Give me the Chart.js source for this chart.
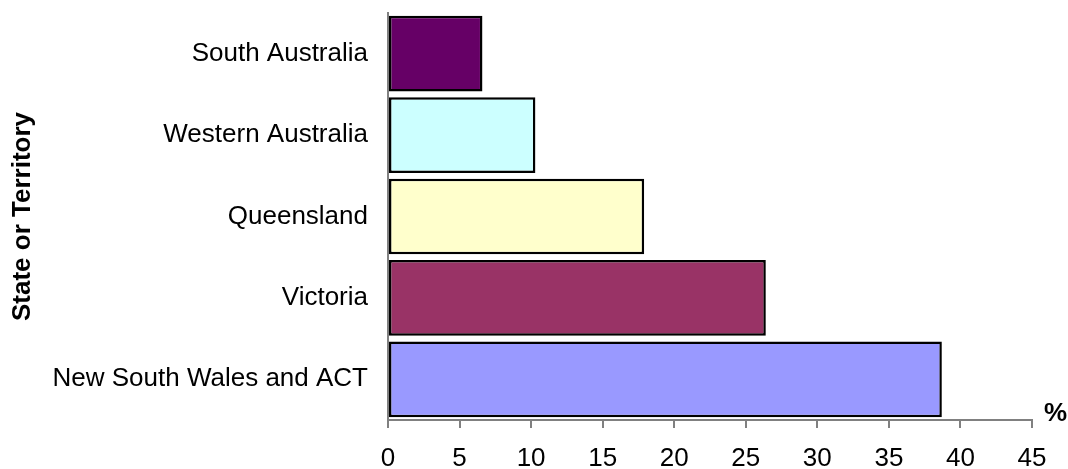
<!DOCTYPE html>
<html>
<head>
<meta charset="utf-8">
<script src="https://cdn.jsdelivr.net/npm/chart.js@4"></script>
<style>
  html, body { margin: 0; padding: 0; background: #fff; }
  #wrap { width: 1068px; height: 469px; }
</style>
</head>
<body>
<div id="wrap"><canvas id="chart" width="1068" height="469"></canvas></div>
<script>
// categories, top to bottom
const states = ['South Australia', 'Western Australia', 'Queensland', 'Victoria', 'New South Wales and ACT'];
// share, %
const shares = [6.6, 10.3, 17.9, 26.4, 38.7];
const barColours = ['#660066', '#CCFFFF', '#FFFFCC', '#993366', '#9999FF'];
const xTicks = [0, 5, 10, 15, 20, 25, 30, 35, 40, 45];

const FONT = "'Liberation Sans', Arial, sans-serif";

// "%" unit label next to the end of the x axis
const unitLabel = {
    id: 'unitLabel',
    afterDraw(chart) {
        const { ctx, chartArea } = chart;
        ctx.save();
        ctx.font = 'bold 26px ' + FONT;
        ctx.fillStyle = '#000';
        ctx.textAlign = 'left';
        ctx.textBaseline = 'alphabetic';
        ctx.fillText('%', chartArea.right + 12, chartArea.bottom + 1);
        ctx.restore();
    }
};

new Chart(document.getElementById('chart'), {
    type: 'bar',
    data: {
        labels: states,
        datasets: [{
            data: shares,
            backgroundColor: barColours,
            borderColor: '#000',
            borderWidth: 2.5,
            borderSkipped: false,
            barPercentage: 0.93,
            categoryPercentage: 1
        }]
    },
    options: {
        indexAxis: 'y',
        responsive: false,
        animation: false,
        layout: { padding: { top: 13, right: 36, left: 0, bottom: 0 } },
        plugins: {
            legend: { display: false },
            tooltip: { enabled: false }
        },
        scales: {
            x: {
                min: 0,
                max: 45,
                afterBuildTicks: (s) => { s.ticks = xTicks.map(v => ({ value: v })); },
                afterFit: (s) => { s.height = 49; },
                grid: {
                    drawOnChartArea: false,
                    drawTicks: true,
                    tickLength: 8,
                    color: '#808080',
                    lineWidth: 2
                },
                border: { display: true, color: '#808080', width: 2 },
                ticks: {
                    color: '#000',
                    padding: 15,
                    maxRotation: 0,
                    font: { family: FONT, size: 26 }
                }
            },
            y: {
                afterFit: (s) => {
                    s.width = 388;
                    // no extra room for label overhang, the layout padding handles it
                    s.paddingTop = 0;
                    s.paddingBottom = 0;
                },
                grid: { display: false, drawTicks: false },
                border: { display: true, color: '#808080', width: 2 },
                ticks: {
                    color: '#000',
                    padding: 20,
                    font: { family: FONT, size: 26 }
                },
                title: {
                    display: true,
                    text: 'State or Territory',
                    color: '#000',
                    padding: { top: 7, bottom: 0 },
                    font: { family: FONT, size: 26, weight: 'bold' }
                }
            }
        }
    },
    plugins: [unitLabel]
});
</script>
</body>
</html>
